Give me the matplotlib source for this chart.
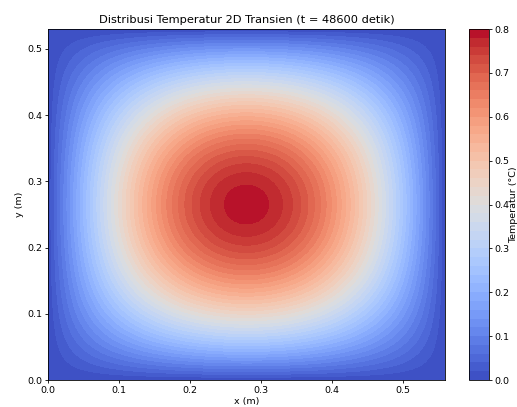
import numpy as np
import matplotlib
matplotlib.use("Agg")
import matplotlib.pyplot as plt

# values
Lx = 0.56          # plate width (m)
Ly = 0.53          # plate height (m)
T_peak = 0.792     # centre temperature (C)
t_detik = 48600
nx, ny = 120, 120

x = np.linspace(0, Lx, nx)
y = np.linspace(0, Ly, ny)
X, Y = np.meshgrid(x, y)
# lowest diffusion mode left after a long transient
T = T_peak * np.sin(np.pi * X / Lx) * np.sin(np.pi * Y / Ly)

fig = plt.figure(figsize=(5.17, 4.07), dpi=100)
ax = fig.add_axes([0.0923, 0.0663, 0.7687, 0.8624])
cax = fig.add_axes([0.9075, 0.0663, 0.0387, 0.8624])

cf = ax.contourf(X, Y, T, levels=50, cmap='coolwarm')
cb = fig.colorbar(cf, cax=cax)
cb.ax.tick_params(labelsize=6.8, length=2.5, width=0.6, pad=1.5)
cb.set_ticks([0.0, 0.1, 0.2, 0.3, 0.4, 0.5, 0.6, 0.7, 0.8])
cb.set_label('Temperatur (°C)', fontsize=6.8, labelpad=-0.5)

ax.set_title(f'Distribusi Temperatur 2D Transien (t = {t_detik} detik)', fontsize=8.2, pad=4)
ax.set_xlabel('x (m)', fontsize=6.8, labelpad=2)
ax.set_ylabel('y (m)', fontsize=6.8, labelpad=2)
ax.tick_params(labelsize=6.8, length=2.5, width=0.6, pad=1.5)
for s in ax.spines.values():
    s.set_linewidth(0.6)
cb.outline.set_linewidth(0.6)

plt.savefig('out.png', dpi=100)
plt.close()
